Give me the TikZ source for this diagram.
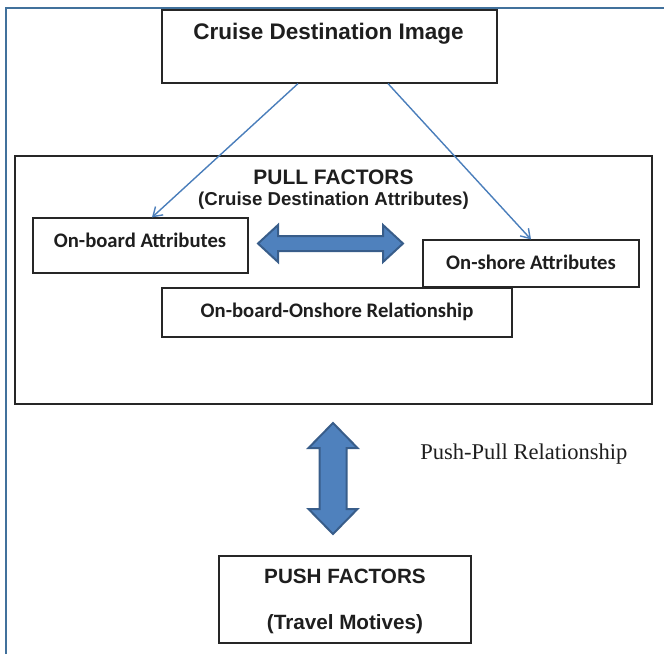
\documentclass[tikz,border=0pt]{standalone}
\usepackage{fontspec}
\setmainfont{Liberation Sans}
\newfontfamily\calib{Carlito}
\newfontfamily\tnr{Liberation Serif}
\usetikzlibrary{arrows.meta,calc,fit}
\definecolor{frameblue}{HTML}{41719C}
\definecolor{lineblue}{HTML}{4A7EBB}
\definecolor{fillblue}{HTML}{4F81BD}
\definecolor{edgeblue}{HTML}{385D8A}
\definecolor{txt}{HTML}{1E1E1E}
\begin{document}
\begin{tikzpicture}[x=0.75pt,y=-0.75pt,
  box/.style={draw=black!85,line width=0.9pt,inner sep=0pt},
  conn/.style={draw=lineblue,line width=1.05pt,-{Straight Barb[length=6.5pt,width=8.5pt]}},
  lbl/.style={inner sep=0pt,anchor=base,text=txt},
  arialbig/.style={font=\bfseries\fontsize{16.9}{19}\selectfont},
  arialmid/.style={font=\bfseries\fontsize{15.7}{18}\selectfont},
  arialsmall/.style={font=\bfseries\fontsize{14}{17}\selectfont},
  arialpush/.style={font=\bfseries\fontsize{15.5}{18}\selectfont},
  calibf/.style={font=\calib\bfseries\fontsize{15.5}{18}\selectfont},
  blockarrow/.style={fill=fillblue,draw=edgeblue,line width=1.5pt,line join=miter}
]
\useasboundingbox (0,0) rectangle (664,654);
\draw[frameblue,line width=1.5pt] (6,654) -- (6,7.5) -- (664,7.5);

% boxes
\node[box,fit={(162,10)(497,83)}] (top) {};
\node[box,fit={(15,156)(652,404)}] (pull) {};
\node[box,fit={(33,218)(248,273)}] (onb) {};
\node[box,fit={(423,240)(639,287)}] (ons) {};
\node[box,fit={(162,288)(512,337)}] (rel) {};
\node[box,fit={(219,556)(471,643)}] (push) {};

% texts
\node[lbl,arialbig] (toptxt) at (328.5,39.5) {Cruise Destination Image};
\node[lbl,arialmid] (pulltxt) at (333.5,184) {PULL FACTORS};
\node[lbl,arialsmall] (pullsub) at (333.5,205) {(Cruise Destination Attributes)};
\node[lbl,calibf] (onbtxt) at (140,247) {On-board Attributes};
\node[lbl,calibf] (onstxt) at (531,269) {On-shore Attributes};
\node[lbl,calibf] (reltxt) at (337,317) {On-board-Onshore Relationship};
\node[lbl,anchor=base west,font=\tnr\fontsize{16.9}{20}\selectfont] (pp) at (420,459) {Push-Pull Relationship};
\node[lbl,arialpush] (pushtxt) at (345,583) {PUSH FACTORS};
\node[lbl,arialpush] (pushsub) at (345,629) {(Travel Motives)};

% connectors
\draw[conn] ($(top.south)+(-31.5,0)$) -- ($(onb.north)+(11.5,0)$);
\draw[conn] ($(top.south)+(58.5,0)$) -- (ons.north);

% horizontal block arrow
\path[blockarrow] (258,243.5) -- (278,225) -- (278,236) -- (383,236) -- (383,225)
  -- (403,243.5) -- (383,262) -- (383,251) -- (278,251) -- (278,262) -- cycle;
% vertical block arrow
\path[blockarrow] (333,423) -- (357.5,448) -- (346.5,448) -- (346.5,509) -- (357.5,509)
  -- (333,534) -- (308.5,509) -- (319.5,509) -- (319.5,448) -- (308.5,448) -- cycle;
\end{tikzpicture}
\end{document}
